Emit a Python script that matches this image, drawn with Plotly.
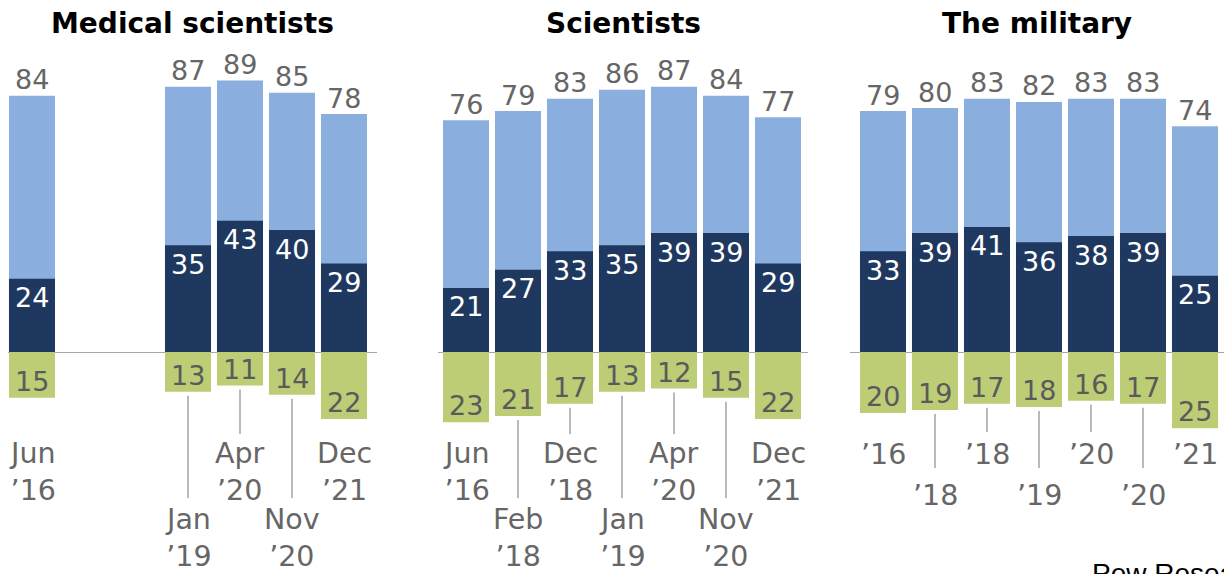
import plotly.graph_objects as go

# ---------------- data ----------------
surveys = ["Jun ’16", "Feb ’18", "Dec ’18", "Jan ’19", "Apr ’20", "Nov ’20", "Dec ’21"]
military_ticks = ["’16", "’18", "’18", "’19", "’20", "’20", "’21"]

med_total = [84, None, None, 87, 89, 85, 78]
med_great = [24, None, None, 35, 43, 40, 29]
med_not = [15, None, None, 13, 11, 14, 22]

sci_total = [76, 79, 83, 86, 87, 84, 77]
sci_great = [21, 27, 33, 35, 39, 39, 29]
sci_not = [23, 21, 17, 13, 12, 15, 22]

mil_total = [79, 80, 83, 82, 83, 83, 74]
mil_great = [33, 39, 41, 36, 38, 39, 25]
mil_not = [20, 19, 17, 18, 16, 17, 25]

titles = ["Medical scientists", "Scientists", "The military"]

# ---------------- styles / geometry ----------------
W, H = 1224, 574
BASE = 352.0          # baseline pixel row
PXU = 3.05            # pixels per percentage point
Y_TOP = BASE / PXU
Y_BOT = -(H - BASE) / PXU
SLOT = 52.0

LIGHT = "#8aaedd"
DARK = "#1f3860"
GREEN = "#bccd76"
GRAY = "#666666"
LINE = "#8c8c8c"
FONT = "DejaVu Sans"


def py(px):
    return (BASE - px) / PXU


panels = [
    dict(total=med_total, great=med_great, notv=med_not,
         ticks=[s.replace(" ", "<br>") for s in surveys],
         left=6, span=(8, 377), two_line=True),
    dict(total=sci_total, great=sci_great, notv=sci_not,
         ticks=[s.replace(" ", "<br>") for s in surveys],
         left=440, span=(438, 808), two_line=True),
    dict(total=mil_total, great=mil_great, notv=mil_not,
         ticks=military_ticks,
         left=857, span=(850, 1224), two_line=False),
]

fig = go.Figure()
annotations = []
shapes = []

for k, p in enumerate(panels):
    ax = "x" if k == 0 else f"x{k + 1}"
    axname = "xaxis" if k == 0 else f"xaxis{k + 1}"
    neg = [(-v if v is not None else None) for v in p["notv"]]

    fig.add_bar(x=surveys, y=p["total"], marker_color=LIGHT, xaxis=ax, yaxis="y",
                marker_line_width=0, hoverinfo="skip")
    fig.add_bar(x=surveys, y=p["great"], marker_color=DARK, xaxis=ax, yaxis="y",
                marker_line_width=0, hoverinfo="skip")
    fig.add_bar(x=surveys, y=neg, marker_color=GREEN, xaxis=ax, yaxis="y",
                marker_line_width=0, hoverinfo="skip")

    s0, s1 = p["span"]
    fig.update_layout(**{axname: dict(
        domain=[s0 / W, s1 / W],
        range=[(s0 - p["left"]) / SLOT - 0.5, (s1 - p["left"]) / SLOT - 0.5],
        type="category", categoryorder="array", categoryarray=surveys,
        showticklabels=False, showgrid=False, zeroline=False, showline=False,
        ticks="", anchor="y", fixedrange=True)})

    # panel title
    annotations.append(dict(xref=f"{ax} domain", yref="paper", x=0.5, y=1 - 23 / H,
                            text=titles[k], showarrow=False, xanchor="center",
                            yanchor="middle",
                            font=dict(family=FONT, size=28, color="#000000",
                                      weight="bold")))

    n = len(surveys)
    for i, cat in enumerate(surveys):
        t, g, nv = p["total"][i], p["great"][i], p["notv"][i]
        if t is None:
            continue
        annotations.append(dict(xref=ax, yref="y", x=cat, y=t, yshift=16,
                                text=str(t), showarrow=False, yanchor="middle",
                                font=dict(family=FONT, size=27, color=GRAY)))
        annotations.append(dict(xref=ax, yref="y", x=cat, y=g, yshift=-19,
                                text=str(g), showarrow=False, yanchor="middle",
                                font=dict(family=FONT, size=27, color="#ffffff")))
        annotations.append(dict(xref=ax, yref="y", x=cat, y=-nv, yshift=16.5,
                                text=str(nv), showarrow=False, yanchor="middle",
                                font=dict(family=FONT, size=27, color="#5a5a5a")))

        lower = (i % 2 == 1)
        if p["two_line"]:
            ly = 538 if lower else 472
            line_end = 498 if lower else 434
        else:
            ly = 495 if lower else 454
            line_end = 468 if lower else 432
        annotations.append(dict(xref=ax, yref="y", x=cat, y=py(ly),
                                text=p["ticks"][i], showarrow=False,
                                yanchor="middle", xanchor="center",
                                font=dict(family=FONT, size=28.5, color=GRAY)))
        if 0 < i < n - 1:
            shapes.append(dict(type="line", xref=ax, yref="y", x0=cat, x1=cat,
                               y0=-nv - 4 / PXU, y1=py(line_end),
                               line=dict(color=LINE, width=1.2)))

annotations.append(dict(xref="paper", yref="paper", x=1090 / W, y=1 - 556 / H,
                        text="Pew Research Center", showarrow=False,
                        xanchor="left", yanchor="top",
                        font=dict(family="Liberation Sans", size=28, color="#000000")))

fig.update_layout(
    width=W, height=H,
    margin=dict(l=0, r=0, t=0, b=0),
    barmode="overlay", bargap=0.115,
    showlegend=False,
    paper_bgcolor="white", plot_bgcolor="white",
    yaxis=dict(domain=[0, 1], range=[Y_BOT, Y_TOP], showticklabels=False,
               showgrid=False, zeroline=True, zerolinecolor="#a6a6a6",
               zerolinewidth=1.2, showline=False, ticks="", fixedrange=True),
    annotations=annotations,
    shapes=shapes,
)

fig.write_html("out.html",
               config={"displayModeBar": False},
               post_script="document.body.style.margin='0';"
                           "document.body.style.overflow='hidden';")
